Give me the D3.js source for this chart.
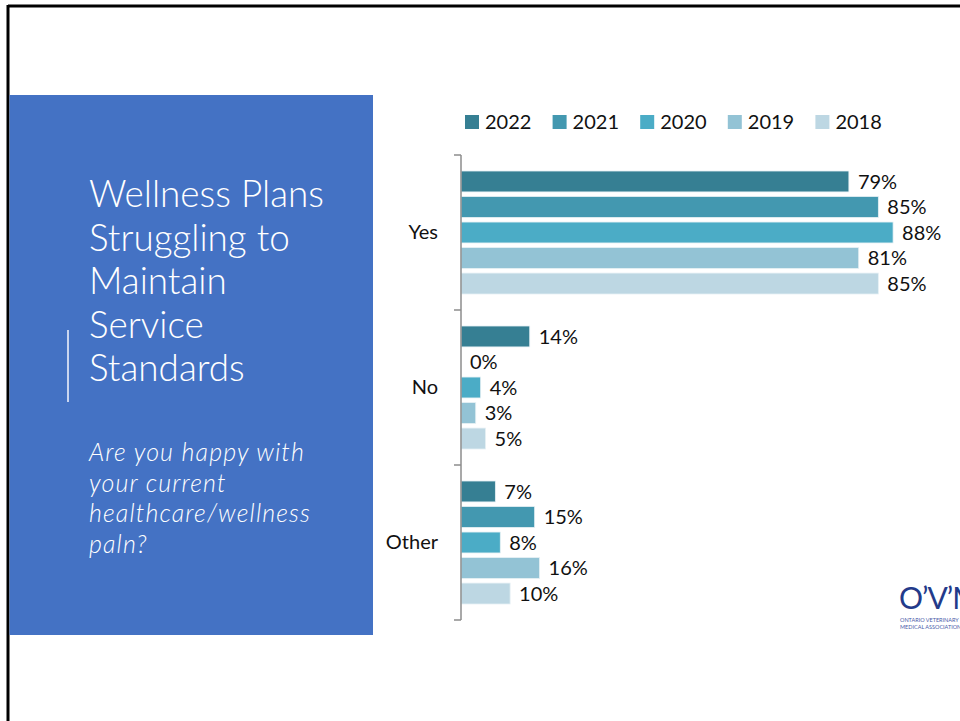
<!DOCTYPE html>
<html>
<head>
<meta charset="utf-8">
<script src="https://cdn.jsdelivr.net/npm/d3@7"></script>
<style>
  html, body { margin: 0; padding: 0; background: #fff; }
  svg { display: block; }
  text { font-family: Lato, "Open Sans", "Noto Sans", sans-serif; }
</style>
</head>
<body>
<svg id="chart" width="960" height="721"></svg>
<script>
// Survey answers and yearly shares
const categories = ["Yes", "No", "Other"];
const years = ["2022", "2021", "2020", "2019", "2018"];
const values2022 = [0.79, 0.14, 0.07];
const values2021 = [0.85, 0.00, 0.15];
const values2020 = [0.88, 0.04, 0.08];
const values2019 = [0.81, 0.03, 0.16];
const values2018 = [0.85, 0.05, 0.10];
const yearColors = ["#367f93", "#4398b0", "#4bacc6", "#93c3d5", "#bdd7e3"];

const titleLines = ["Wellness Plans", "Struggling to", "Maintain", "Service", "Standards"];
const questionLines = ["Are you happy with", "your current", "healthcare/wellness", "paln?"];

const seriesValues = [values2022, values2021, values2020, values2019, values2018];
const rows = [];
categories.forEach((c, ci) => {
  years.forEach((y, yi) => rows.push({ cat: c, year: y, value: seriesValues[yi][ci] }));
});

const svg = d3.select("#chart");

// Slide frame
svg.append("line").attr("x1", 8).attr("x2", 960).attr("y1", 6).attr("y2", 6)
  .attr("stroke", "#000").attr("stroke-width", 3);
svg.append("line").attr("x1", 8).attr("x2", 8).attr("y1", 5).attr("y2", 721)
  .attr("stroke", "#000").attr("stroke-width", 3);

// Blue title panel
svg.append("rect").attr("x", 9.5).attr("y", 95).attr("width", 363.5).attr("height", 540)
  .attr("fill", "#4472c4");
svg.append("line").attr("x1", 68).attr("x2", 68).attr("y1", 330).attr("y2", 402)
  .attr("stroke", "#c9d5ef").attr("stroke-width", 2);

function fitText(sel, targetWidth) {
  const node = sel.node();
  const w = node.getComputedTextLength();
  const fs = parseFloat(sel.attr("font-size"));
  sel.attr("font-size", fs * targetWidth / w);
}

const title = svg.append("g");
titleLines.forEach((t, i) => {
  title.append("text").attr("x", 89).attr("y", 207 + i * 43.5)
    .attr("fill", "#fff").attr("font-size", 34).attr("font-weight", 300).text(t);
});
// size the title so its widest line spans the panel text column
const tFirst = title.select("text");
fitText(tFirst, 235);
title.selectAll("text").attr("font-size", tFirst.attr("font-size"));

const question = svg.append("g");
questionLines.forEach((t, i) => {
  question.append("text").attr("x", 89).attr("y", 461 + i * 30.5)
    .attr("fill", "#fff").attr("font-size", 25).attr("font-style", "italic")
    .attr("font-weight", 300).text(t);
});
// open the letter spacing a little so the widest line fills the column
const qWide = question.selectAll("text").filter((d, i) => i === 2);
const qLen = qWide.node().getComputedTextLength();
const qSpacing = Math.max(0, (222 - qLen) / questionLines[2].length);
question.selectAll("text").attr("letter-spacing", qSpacing);

// Scales
const x = d3.scaleLinear().domain([0, 1]).range([461, 952]);
const y = d3.scaleBand().domain(categories).range([155, 620]);
const yInner = d3.scaleBand().domain(years).range([16, y.bandwidth() - 16]).paddingInner(0.18);
const color = d3.scaleOrdinal().domain(years).range(yearColors);

// Bars
svg.append("g").selectAll("rect").data(rows).join("rect")
  .attr("x", x(0))
  .attr("y", d => y(d.cat) + yInner(d.year))
  .attr("width", d => x(d.value) - x(0))
  .attr("height", yInner.bandwidth())
  .attr("fill", d => color(d.year))
  .attr("stroke", d => d.value > 0 ? "#e6f0f4" : "none")
  .attr("stroke-width", 0.8);

// Value labels
svg.append("g").selectAll("text").data(rows).join("text")
  .attr("x", d => x(d.value) + 9)
  .attr("y", d => y(d.cat) + yInner(d.year) + yInner.bandwidth() / 2)
  .attr("dy", "0.36em")
  .attr("font-size", 20)
  .attr("fill", "#111")
  .text(d => d3.format(".0%")(d.value));

// Category axis
const axis = svg.append("g").attr("transform", `translate(${x(0)},0)`)
  .call(d3.axisLeft(y).tickSize(0).tickPadding(23));
axis.select(".domain").remove();
axis.selectAll("text").attr("font-size", 20).attr("fill", "#111")
  .style("font-family", "Lato, 'Open Sans', sans-serif");
const bounds = categories.map(c => y(c)).concat([y.range()[1]]);
axis.append("line").attr("x1", 0).attr("x2", 0).attr("y1", y.range()[0]).attr("y2", y.range()[1])
  .attr("stroke", "#8c8c8c").attr("stroke-width", 1.5);
axis.selectAll(".bound").data(bounds).join("line").attr("class", "bound")
  .attr("x1", -7).attr("x2", 0).attr("y1", d => d).attr("y2", d => d)
  .attr("stroke", "#8c8c8c").attr("stroke-width", 1.5);

// Legend
const legend = svg.append("g").selectAll("g").data(years).join("g")
  .attr("transform", (d, i) => `translate(${465 + i * 87.6},122)`);
legend.append("rect").attr("x", 0).attr("y", -7).attr("width", 14).attr("height", 14)
  .attr("fill", d => color(d));
legend.append("text").attr("x", 20).attr("y", 0).attr("dy", "0.36em")
  .attr("font-size", 20).attr("fill", "#111").text(d => d);

// Association logo, running off the slide's right edge
const logo = svg.append("g");
logo.append("text").attr("x", 899).attr("y", 609).attr("font-size", 30)
  .attr("fill", "#233a8a").attr("font-family", "'Liberation Sans', sans-serif")
  .attr("letter-spacing", -1).text("O’V’MA");
logo.append("text").attr("x", 900).attr("y", 622).attr("font-size", 5.5)
  .attr("fill", "#4a5aa8").attr("font-family", "'Liberation Sans', sans-serif").text("ONTARIO VETERINARY");
logo.append("text").attr("x", 900).attr("y", 629).attr("font-size", 5.5)
  .attr("fill", "#4a5aa8").attr("font-family", "'Liberation Sans', sans-serif").text("MEDICAL ASSOCIATION");
</script>
</body>
</html>
